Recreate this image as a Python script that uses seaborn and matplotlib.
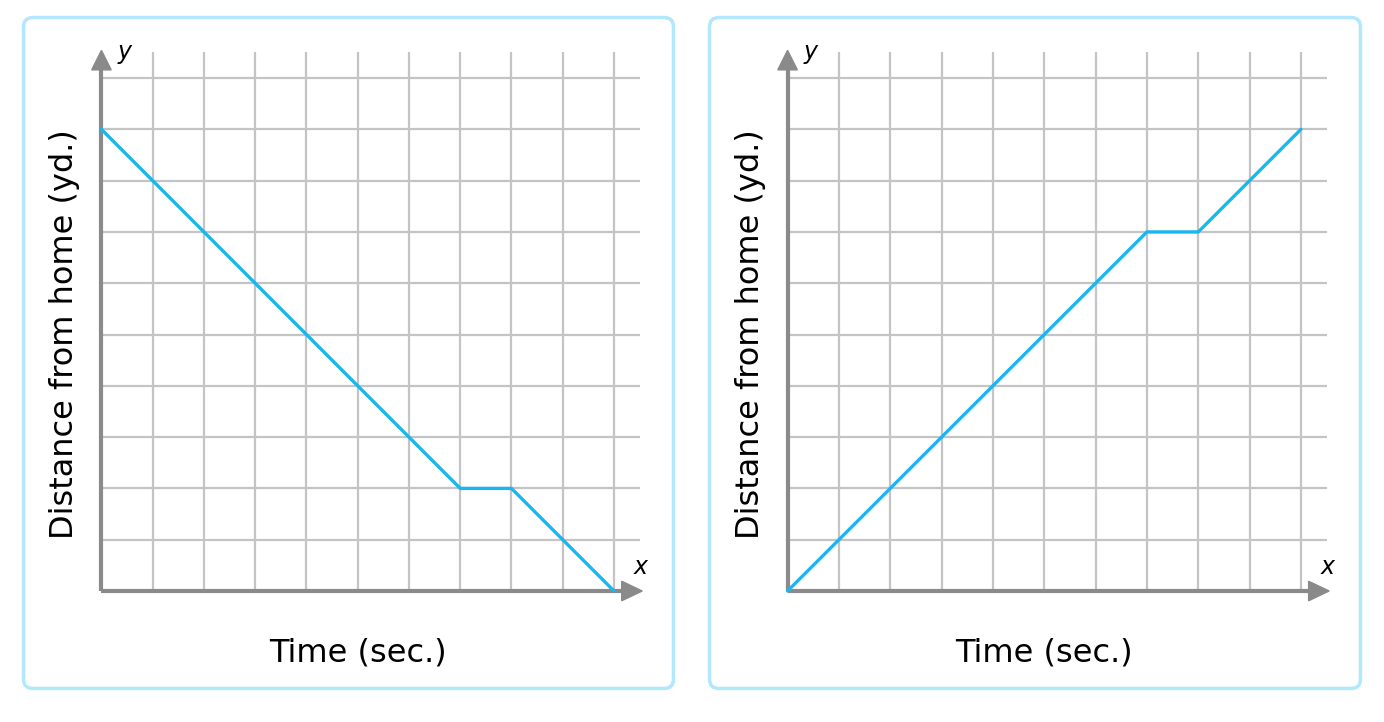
import pandas as pd
import seaborn as sns
import matplotlib.pyplot as plt
from matplotlib.patches import FancyBboxPatch, Polygon

time_left = [0, 7, 8, 10]
dist_left = [9, 2, 2, 0]
time_right = [0, 7, 8, 10]
dist_right = [0, 7, 7, 9]
grid_ticks = list(range(1, 11))
x_label = 'Time (sec.)'
y_label = 'Distance from home (yd.)'

sns.set_theme(style='white')
plt.rcParams['font.family'] = ['DejaVu Sans']

fig = plt.figure(figsize=(13.84, 7.22), dpi=100)
W, H = 1384, 722

line_color = '#1ab6f0'
grid_color = '#c4c4c4'
axis_color = '#8a8a8a'
border_color = '#b2e7fc'


def panel(left_px, right_px, time, dist):
    ax = fig.add_axes([left_px / W, (H - 690) / H, (right_px - left_px) / W, (690 - 16) / H])

    box = FancyBboxPatch((-1.52, -1.9), 12.68, 13.08,
                         boxstyle='round,pad=0,rounding_size=0.18',
                         facecolor='white', edgecolor=border_color, lw=2.5,
                         clip_on=False, zorder=0)
    ax.add_patch(box)

    ax.vlines(grid_ticks, 0, 10.5, color=grid_color, lw=1.6, zorder=1)
    ax.hlines(grid_ticks, 0, 10.5, color=grid_color, lw=1.6, zorder=1)

    # axes with arrow heads
    ax.plot([0, 10.2], [0, 0], color=axis_color, lw=3, solid_capstyle='butt', zorder=2)
    ax.plot([0, 0], [0, 10.2], color=axis_color, lw=3, solid_capstyle='butt', zorder=2)
    ax.add_patch(Polygon([[10.15, 0.19], [10.55, 0], [10.15, -0.19]], closed=True,
                         color=axis_color, zorder=2))
    ax.add_patch(Polygon([[-0.19, 10.16], [0, 10.54], [0.19, 10.16]], closed=True,
                         color=axis_color, zorder=2))

    df = pd.DataFrame({'time': time, 'dist': dist})
    sns.lineplot(data=df, x='time', y='dist', ax=ax, color=line_color, lw=2.4,
                 sort=False, zorder=3)
    ax.set_xlim(-1.55, 11.19)
    ax.set_ylim(-1.93, 11.21)
    ax.axis('off')

    ax.text(10.52, 0.47, 'x', fontsize=17, style='italic', ha='center', va='center', color='black')
    ax.text(0.45, 10.5, 'y', fontsize=17, style='italic', ha='center', va='center', color='black')
    ax.text(5.0, -1.2, x_label, fontsize=23, ha='center', va='center', color='black')
    ax.text(-0.72, 5.0, y_label, fontsize=23, ha='center', va='center', rotation=90, color='black')


panel(22, 675, time_left, dist_left)
panel(708, 1362, time_right, dist_right)

fig.savefig('out.png', dpi=100)
